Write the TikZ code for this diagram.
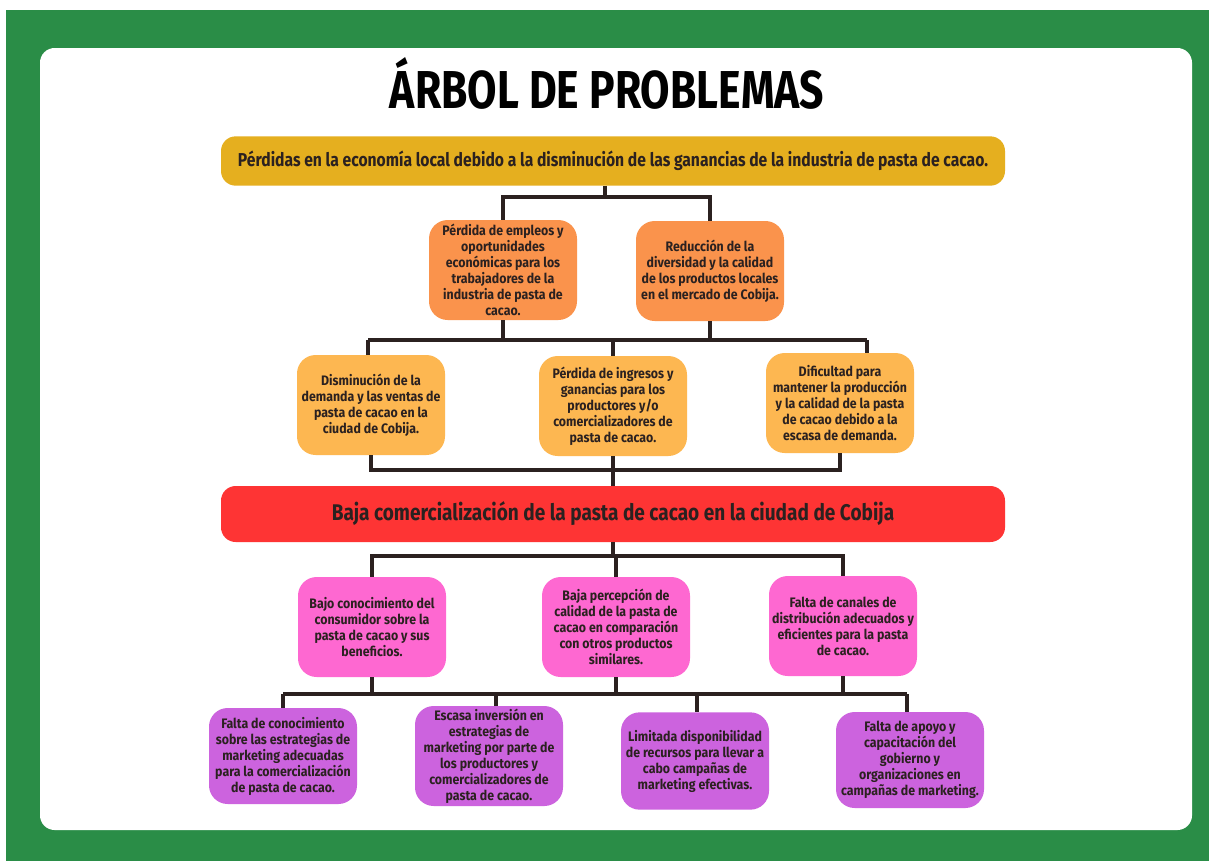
\documentclass[tikz,border=0pt]{standalone}
\usepackage{fontspec}
\setmainfont{Fira Sans}
\newfontfamily\titlefont[FakeStretch=0.8]{Fira Sans}
\newfontfamily\barfont[FakeStretch=0.84]{Fira Sans}
\newfontfamily\boxfont[FakeStretch=0.9]{Fira Sans}

\definecolor{verde}{HTML}{2A8D47}
\definecolor{oro}{HTML}{E5AF1F}
\definecolor{naranja}{HTML}{FA934C}
\definecolor{amarillo}{HTML}{FDB751}
\definecolor{rojo}{HTML}{FE3434}
\definecolor{rosa}{HTML}{FE68D1}
\definecolor{morado}{HTML}{CC63DE}
\definecolor{texto}{HTML}{2B2120}

\begin{document}
\begin{tikzpicture}[x=0.75pt, y=-0.75pt,
    caja/.style={rectangle, rounded corners=14pt, fill=#1, minimum width=111pt, minimum height=75pt,
        align=center, inner sep=1pt, text=texto, font=\boxfont\bfseries\fontsize{10.3}{12}\selectfont},
    barra/.style={rectangle, rounded corners=11pt, fill=#1, minimum width=588pt, text=texto},
    linea/.style={draw=texto, line width=2.5pt}
]
\useasboundingbox (0,0) rectangle (1209,861);
\fill[white] (0,0) rectangle (1209,861);
\fill[verde] (6,10) rectangle (1209,861);
\fill[white, rounded corners=11pt] (40,48) rectangle (1192,830);

\node[font=\titlefont\bfseries\fontsize{40}{40}\selectfont, text=black] (titulo) at (607,83) {ÁRBOL DE PROBLEMAS};

% Efectos
\node[barra=oro, minimum height=37pt, font=\barfont\bfseries\fontsize{14}{14}\selectfont] (efecto) at (613,161)
    {Pérdidas en la economía local debido a la disminución de las ganancias de la industria de pasta de cacao.};

\node[caja=naranja] (o1) at (503,270) {Pérdida de empleos y\\oportunidades\\económicas para los\\trabajadores de la\\industria de pasta de\\cacao.};
\node[caja=naranja] (o2) at (710,271) {Reducción de la\\diversidad y la calidad\\de los productos locales\\en el mercado de Cobija.};

\node[caja=amarillo] (y1) at (371,405) {Disminución de la\\demanda y las ventas de\\pasta de cacao en la\\ciudad de Cobija.};
\node[caja=amarillo] (y2) at (613,406) {Pérdida de ingresos y\\ganancias para los\\productores y/o\\comercializadores de\\pasta de cacao.};
\node[caja=amarillo] (y3) at (840,403) {Dificultad para\\mantener la producción\\y la calidad de la pasta\\de cacao debido a la\\escasa de demanda.};

% Problema central
\node[barra=rojo, minimum height=42pt, font=\barfont\bfseries\fontsize{17}{17}\selectfont] (central) at (613,514)
    {Baja comercialización de la pasta de cacao en la ciudad de Cobija};

% Causas
\node[caja=rosa] (k1) at (372,627) {Bajo conocimiento del\\consumidor sobre la\\pasta de cacao y sus\\beneficios.};
\node[caja=rosa] (k2) at (616,627) {Baja percepción de\\calidad de la pasta de\\cacao en comparación\\con otros productos\\similares.};
\node[caja=rosa] (k3) at (843,626) {Falta de canales de\\distribución adecuados y\\eficientes para la pasta\\de cacao.};

\node[caja=morado, minimum height=72pt] (p1) at (283,756) {Falta de conocimiento\\sobre las estrategias de\\marketing adecuadas\\para la comercialización\\de pasta de cacao.};
\node[caja=morado] (p2) at (489,756) {Escasa inversión en\\estrategias de\\marketing por parte de\\los productores y\\comercializadores de\\pasta de cacao.};
\node[caja=morado, minimum height=73pt] (p3) at (695,761) {Limitada disponibilidad\\de recursos para llevar a\\cabo campañas de\\marketing efectivas.};
\node[caja=morado, minimum height=72pt] (p4) at (910,760) {Falta de apoyo y\\capacitación del\\gobierno y\\organizaciones en\\campañas de marketing.};

% Conectores
\coordinate (e1) at (605,197);
\draw[linea] (efecto.south -| e1) -- (e1);
\draw[linea] (o1.north) |- (e1) -| (o2.north);

\coordinate (c1) at (368,340);
\coordinate (c3) at (867,340);
\draw[linea] (c1) -- (c3);
\draw[linea] (o1.south) -- (o1.south |- c1);
\draw[linea] (o2.south) -- (o2.south |- c1);
\draw[linea] (c1) -- (c1 |- y1.north);
\draw[linea] (y2.north |- c1) -- (y2.north);
\draw[linea] (c3) -- (c3 |- y3.north);

\coordinate (r0) at (613,470);
\draw[linea] (y1.south) |- (r0) -| (y3.south);
\draw[linea] (y2.south) -- (r0) -- (r0 |- central.north);

\coordinate (k0) at (613,556);
\draw[linea] (central.south -| k0) -- (k0);
\draw[linea] (k1.north) |- (k0) -| (k3.north);
\draw[linea] (k2.north) -- (k2.north |- k0);

\coordinate (m1) at (283,694);
\coordinate (m2) at (496,694);
\coordinate (m3) at (697,694);
\coordinate (m4) at (907,694);
\draw[linea] (m1) -- (m4);
\foreach \k in {k1,k2,k3} {
    \draw[linea] (\k.south) -- (\k.south |- m1);
}
\draw[linea] (m1) -- (m1 |- p1.north);
\draw[linea] (m2) -- (m2 |- p2.north);
\draw[linea] (m3) -- (m3 |- p3.north);
\draw[linea] (m4) -- (m4 |- p4.north);
\end{tikzpicture}
\end{document}
